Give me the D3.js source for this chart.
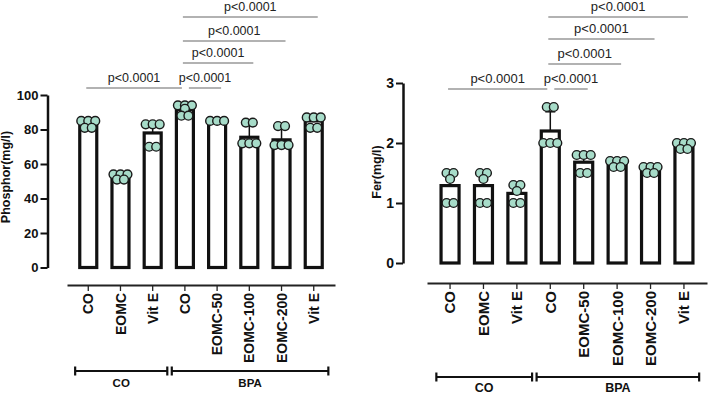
<!DOCTYPE html>
<html>
<head>
<meta charset="utf-8">
<script src="https://cdn.jsdelivr.net/npm/d3@7"></script>
<style>
  body { margin: 0; background: #fff; }
  svg { display: block; font-family: "Liberation Sans", Arial, sans-serif; }
</style>
</head>
<body>
<svg id="chart" width="709" height="396"></svg>
<script>
// Categories shared by both panels
const categories = ["CO", "EOMC", "Vit E", "CO", "EOMC-50", "EOMC-100", "EOMC-200", "Vit E"];
const groupLabels = ["CO", "BPA"];
const groupSpans = [[0, 2], [3, 7]];

// Phosphor panel
const phosMeans = [83.5, 52.5, 78, 91.5, 85, 75.5, 74, 85];
const phosSD = [1.5, 1.5, 5.5, 2.5, 0, 8.5, 8, 2];
const phosPoints = [
  [85, 85, 85, 81, 81],
  [54, 54, 54, 51, 51],
  [83, 83, 83, 70, 70],
  [94, 94, 94, 92, 88, 88],
  [85, 85, 85],
  [84, 84, 72, 72, 72],
  [82, 82, 71, 71, 71],
  [87, 87, 87, 81, 81]
];
const phosTicks = [0, 20, 40, 60, 80, 100];

// Fer panel
const ferMeans = [1.29, 1.29, 1.16, 2.2, 1.68, 1.63, 1.56, 1.95];
const ferSD = [0.2, 0.2, 0.12, 0.32, 0.15, 0.05, 0.05, 0.05];
const ferPoints = [
  [1.5, 1.5, 1.4, 1.0, 1.0],
  [1.5, 1.5, 1.4, 1.0, 1.0],
  [1.3, 1.3, 1.2, 1.0, 1.0],
  [2.6, 2.6, 2.0, 2.0, 2.0],
  [1.8, 1.8, 1.8, 1.5, 1.5],
  [1.7, 1.7, 1.7, 1.6, 1.6],
  [1.6, 1.6, 1.6, 1.5, 1.5],
  [2.0, 2.0, 2.0, 1.9, 1.9]
];
const ferTicks = [0, 1, 2, 3];

// Significance comparisons (bar index pairs) and their stacking level
const comparisons = [[0, 3], [3, 4], [3, 5], [3, 6], [3, 7]];
const compLevels = [0, 0, 1, 2, 3];
const compLabels = ["p<0.0001", "p<0.0001", "p<0.0001", "p<0.0001", "p<0.0001"];

const svg = d3.select("#chart");

function drawPanel(cfg) {
  const g = svg.append("g");
  const idx = categories.map((d, i) => i);

  const x = d3.scaleBand().domain(idx).range(cfg.xRange).paddingInner(0).paddingOuter(cfg.padOuter);
  const y = d3.scaleLinear().domain(cfg.yDomain).range(cfg.yRange);
  const cx = (i) => x(i) + x.bandwidth() / 2;

  // y axis
  const yAxis = g.append("g")
    .attr("transform", `translate(${cfg.yAxisX},0)`)
    .call(d3.axisLeft(y).tickValues(cfg.ticks).tickFormat(d3.format("d"))
      .tickSize(7).tickSizeOuter(0).tickPadding(2));
  yAxis.select(".domain").attr("stroke", "#111").attr("stroke-width", 2.5);
  yAxis.selectAll(".tick line").attr("stroke", "#111").attr("stroke-width", 2);
  yAxis.selectAll(".tick text")
    .attr("fill", "#111")
    .style("font-size", cfg.tickFont + "px")
    .style("font-weight", "bold")
    .style("font-family", "'Liberation Sans', Arial, sans-serif");

  // y label
  g.append("text")
    .attr("transform", `translate(${cfg.yLabelX},${cfg.yLabelY}) rotate(-90)`)
    .attr("text-anchor", "middle")
    .style("font-size", cfg.yLabelFont + "px")
    .style("font-weight", "bold")
    .attr("fill", "#111")
    .text(cfg.yLabel);

  // x axis
  const xAxis = g.append("g")
    .attr("transform", `translate(0,${cfg.xAxisY})`)
    .call(d3.axisBottom(x).tickFormat((i) => categories[i]).tickSize(6).tickSizeOuter(0).tickPadding(3));
  xAxis.select(".domain").attr("stroke", "#222").attr("stroke-width", 1.8);
  xAxis.selectAll(".tick line").attr("stroke", "#222").attr("stroke-width", 1.3);
  xAxis.selectAll(".tick text")
    .attr("transform", "rotate(-90)")
    .attr("text-anchor", "end")
    .attr("x", -8)
    .attr("y", 0)
    .attr("dy", "0.36em")
    .attr("fill", "#111")
    .style("font-size", cfg.catFont + "px")
    .style("font-weight", "bold")
    .style("font-family", "'Liberation Sans', Arial, sans-serif");

  // bars
  g.selectAll("rect.bar")
    .data(cfg.means)
    .enter()
    .append("rect")
    .attr("class", "bar")
    .attr("x", (d, i) => cx(i) - cfg.barW / 2)
    .attr("y", (d) => y(d))
    .attr("width", cfg.barW)
    .attr("height", (d) => y(0) - y(d))
    .attr("fill", "#fff")
    .attr("stroke", "#111")
    .attr("stroke-width", 3.2);

  // error bars (upper only)
  const err = g.selectAll("g.err")
    .data(cfg.means)
    .enter()
    .append("g")
    .attr("class", "err")
    .attr("stroke", "#111")
    .attr("stroke-width", 1.5);
  err.append("line")
    .attr("x1", (d, i) => cx(i))
    .attr("x2", (d, i) => cx(i))
    .attr("y1", (d) => y(d))
    .attr("y2", (d, i) => y(d + cfg.sd[i]));
  err.append("line")
    .attr("x1", (d, i) => cx(i) - 5)
    .attr("x2", (d, i) => cx(i) + 5)
    .attr("y1", (d, i) => y(d + cfg.sd[i]))
    .attr("y2", (d, i) => y(d + cfg.sd[i]));

  // individual points, spread horizontally when values repeat
  const pts = [];
  cfg.points.forEach((arr, i) => {
    const groups = d3.group(arr, (v) => v);
    groups.forEach((vals, v) => {
      vals.forEach((val, j) => {
        pts.push({ i: i, v: val, off: (j - (vals.length - 1) / 2) * 7 });
      });
    });
  });
  g.selectAll("circle.pt")
    .data(pts)
    .enter()
    .append("circle")
    .attr("class", "pt")
    .attr("cx", (d) => cx(d.i) + d.off)
    .attr("cy", (d) => y(d.v))
    .attr("r", 4.4)
    .attr("fill", "#a7dcc9")
    .attr("stroke", "#1a1a1a")
    .attr("stroke-width", 1.4);

  // significance lines
  comparisons.forEach((c, k) => {
    const lvl = compLevels[k];
    const sharesEnd = comparisons.some((o, m) => m !== k && compLevels[m] === lvl && o[0] === c[1]);
    const sharesStart = comparisons.some((o, m) => m !== k && compLevels[m] === lvl && o[1] === c[0]);
    const x1 = cx(c[0]) + (sharesStart ? 4 : -2);
    const x2 = cx(c[1]) + (sharesEnd ? -3 : 4);
    const ly = cfg.compY[lvl];
    g.append("line")
      .attr("x1", x1).attr("x2", x2)
      .attr("y1", ly).attr("y2", ly)
      .attr("stroke", "#666")
      .attr("stroke-width", 1.2);
    g.append("text")
      .attr("x", (x1 + x2) / 2)
      .attr("y", ly - 6)
      .attr("text-anchor", "middle")
      .attr("fill", "#222")
      .style("font-size", cfg.pFont + "px")
      .text(compLabels[k]);
  });

  // group brackets
  groupSpans.forEach((s, k) => {
    const x1 = x(s[0]) + 3;
    const x2 = x(s[1]) + x.bandwidth() - 1.5;
    const by = cfg.bracketY;
    const br = g.append("g").attr("stroke", "#111").attr("stroke-width", 2.2);
    br.append("line").attr("x1", x1).attr("x2", x2).attr("y1", by).attr("y2", by);
    br.append("line").attr("x1", x1).attr("x2", x1).attr("y1", by - 4.5).attr("y2", by + 4.5);
    br.append("line").attr("x1", x2).attr("x2", x2).attr("y1", by - 4.5).attr("y2", by + 4.5);
    g.append("text")
      .attr("x", (x1 + x2) / 2)
      .attr("y", cfg.groupLabelY)
      .attr("text-anchor", "middle")
      .attr("fill", "#111")
      .style("font-size", cfg.groupFont + "px")
      .style("font-weight", "bold")
      .text(groupLabels[k]);
  });
}

drawPanel({
  means: phosMeans, sd: phosSD, points: phosPoints, ticks: phosTicks,
  xRange: [67, 335], padOuter: 0.16,
  yDomain: [0, 100], yRange: [267.5, 95], yAxisX: 47.5,
  xAxisY: 285, barW: 17,
  yLabel: "Phosphor(mg/l)", yLabelX: 10, yLabelY: 177, yLabelFont: 12.5,
  tickFont: 13, catFont: 14, pFont: 12.5, groupFont: 11.5,
  compY: [88, 63, 41, 17],
  bracketY: 371, groupLabelY: 387
});

drawPanel({
  means: ferMeans, sd: ferSD, points: ferPoints, ticks: ferTicks,
  xRange: [427, 707], padOuter: 0.19,
  yDomain: [0, 3], yRange: [263, 83], yAxisX: 403,
  xAxisY: 283, barW: 18,
  yLabel: "Fer(mg/l)", yLabelX: 381, yLabelY: 172, yLabelFont: 12.5,
  tickFont: 14, catFont: 15, pFont: 13, groupFont: 12.5,
  compY: [89, 64, 39, 17],
  bracketY: 377, groupLabelY: 392
});
</script>
</body>
</html>
